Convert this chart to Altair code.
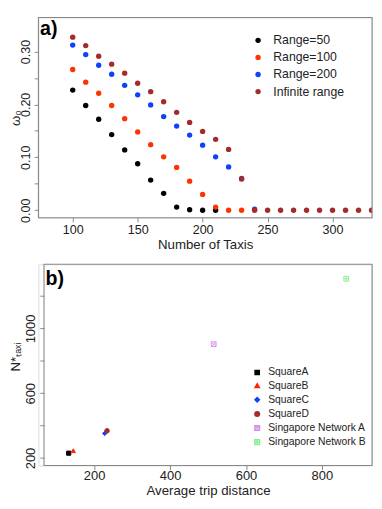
import altair as alt
import pandas as pd

FONT = "Liberation Sans"

# ---------- panel a data ----------
series_names = ["Range=50", "Range=100", "Range=200", "Infinite range"]
series_colors = ["#000000", "#FF3300", "#1040FF", "#A52A2A"]

x_r50 = [100, 110, 120, 130, 140, 150, 160, 170, 180, 190, 200, 210]
y_r50 = [0.227, 0.198, 0.172, 0.143, 0.114, 0.088, 0.057, 0.032, 0.006, 0.001, 0.0, 0.0]

x_r100 = [100, 110, 120, 130, 140, 150, 160, 170, 180, 190, 200, 210, 220, 230]
y_r100 = [0.266, 0.242, 0.221, 0.198, 0.173, 0.148, 0.124, 0.101, 0.081, 0.055, 0.030, 0.006, 0.0, 0.0]

x_r200 = [100, 110, 120, 130, 140, 150, 160, 170, 180, 190, 200, 210, 220, 230, 240]
y_r200 = [0.312, 0.294, 0.274, 0.257, 0.236, 0.218, 0.199, 0.177, 0.159, 0.142, 0.123, 0.101, 0.082, 0.060, 0.002]

x_inf = [100, 110, 120, 130, 140, 150, 160, 170, 180, 190, 200, 210, 220, 230,
         240, 250, 260, 270, 280, 290, 300, 310, 320, 330]
y_inf = [0.327, 0.311, 0.291, 0.276, 0.259, 0.240, 0.224, 0.205, 0.185, 0.166, 0.149, 0.134, 0.115, 0.059,
         0.0, 0.0, 0.0, 0.0, 0.0, 0.0, 0.0, 0.0, 0.0, 0.0]

x_ticks_a = [100, 150, 200, 250, 300]
y_ticks_a = [0.0, 0.05, 0.10, 0.15, 0.20, 0.25, 0.30]

# ---------- panel b data ----------
net_names = ["SquareA", "SquareB", "SquareC", "SquareD", "Singapore Network A", "Singapore Network B"]
net_trip = [133, 145, 228, 234, 515, 864]
net_ntaxi = [230, 245, 352, 368, 903, 1307]
net_stroke = ["#000000", "#FF2200", "#1040FF", "#A52A2A", "#D890EE", "#90EE90"]
net_fill = ["#000000", "#FF2200", "#1040FF", "#A52A2A", "transparent", "transparent"]
net_shapes = ["square", "triangle-up", "diamond", "circle",
              "M-1,-1L1,-1L1,1L-1,1Z M-1,-1L1,1 M-1,1L1,-1",
              "M-1,-1L1,-1L1,1L-1,1Z M0,-1L0,1 M-1,0L1,0"]
net_sizes = [18, 24, 16, 22, 30, 34]

x_ticks_b = [200, 400, 600, 800]
y_ticks_b = [200, 400, 600, 800, 1000, 1200]

rows = []
for name, xs, ys in zip(series_names, [x_r50, x_r100, x_r200, x_inf], [y_r50, y_r100, y_r200, y_inf]):
    for xv, yv in zip(xs, ys):
        rows.append({"taxis": xv, "omega": yv, "series": name})
df_a = pd.DataFrame(rows)

df_b = pd.DataFrame({"network": net_names, "trip": net_trip, "ntaxi": net_ntaxi})

FRAME = "#888888"
W = 340          # common view width (both panels share the left origin)
B_IN = 5.7       # panel b frame starts this far right of the shared origin
HA = 204
HB = 205


def axis_style(label_size):
    return dict(
        domain=False, grid=False, ticks=True, tickColor=FRAME, tickSize=4.3,
        labelFont=FONT, labelFontSize=label_size, labelColor="#222222",
        titleFont=FONT, titleFontSize=13.5, titleFontWeight="normal", titleColor="#222222",
    )

# ---------- panel a ----------
pts_a = alt.Chart(df_a).mark_circle(size=30, opacity=1, clip=True).encode(
    x=alt.X("taxis:Q",
            scale=alt.Scale(domain=[73.6, 330.4], nice=False, zero=False),
            axis=alt.Axis(values=x_ticks_a, title="Number of Taxis", labelPadding=2.3, titlePadding=0.8,
                          **axis_style(12.8))),
    y=alt.Y("omega:Q",
            scale=alt.Scale(domain=[-0.014, 0.364], nice=False, zero=False),
            axis=alt.Axis(values=y_ticks_a, title="ω₀",
                          labelExpr="round(datum.value*100) % 10 == 0 ? format(datum.value, '.2f') : ''",
                          labelAngle=270, labelAlign="center", labelBaseline="bottom",
                          labelPadding=1.5, titlePadding=-3, **axis_style(12.8))),
    color=alt.Color("series:N",
                    scale=alt.Scale(domain=series_names, range=series_colors),
                    legend=alt.Legend(orient="none", legendX=217.6, legendY=17, title=None,
                                      labelFont=FONT, labelFontSize=12.5, labelColor="#222222",
                                      symbolType="circle", symbolSize=30, rowPadding=4.4,
                                      labelOffset=9.2, padding=0)),
)
label_a = alt.Chart(alt.Data(values=[{"t": "a)"}])).mark_text(
    font=FONT, fontSize=20, fontWeight="bold", align="left", baseline="alphabetic", color="#000000"
).encode(text="t:N", x=alt.value(1.7), y=alt.value(17.6))
frame_a = alt.Chart(alt.Data(values=[{"t": 0}])).mark_rect(
    fill=None, stroke=FRAME, strokeWidth=1.1
).encode(x=alt.value(0), x2=alt.value(W), y=alt.value(0), y2=alt.value(HA))
panel_a = alt.layer(pts_a, label_a, frame_a).properties(width=W, height=HA)

# ---------- panel b ----------
pts_b = alt.Chart(df_b).mark_point(opacity=1, strokeWidth=1).encode(
    x=alt.X("trip:Q",
            scale=alt.Scale(domain=[68, 932], nice=False, zero=False, range=[B_IN, W]),
            axis=alt.Axis(values=x_ticks_b, title="Average trip distance", labelPadding=0.5, titlePadding=1.2,
                          titleX=(B_IN + W) / 2, **axis_style(13.2))),
    y=alt.Y("ntaxi:Q",
            scale=alt.Scale(domain=[154, 1396], nice=False, zero=False),
            axis=alt.Axis(values=y_ticks_b, title="N*ₜₐₓᵢ", format="d", offset=-B_IN,
                          labelExpr="(datum.value - 200) % 400 == 0 ? datum.label : ''",
                          labelAngle=270, labelAlign="center", labelBaseline="bottom",
                          labelPadding=2.3, titlePadding=1.4, titleY=94, **axis_style(13.2))),
    fill=alt.Fill("network:N", scale=alt.Scale(domain=net_names, range=net_fill)),
    stroke=alt.Stroke("network:N", scale=alt.Scale(domain=net_names, range=net_stroke)),
    shape=alt.Shape("network:N", scale=alt.Scale(domain=net_names, range=net_shapes)),
    size=alt.Size("network:N", scale=alt.Scale(domain=net_names, range=net_sizes),
                  legend=alt.Legend(orient="none", legendX=217.7, legendY=105, title=None,
                                    labelFont=FONT, labelFontSize=10.5, labelColor="#222222",
                                    rowPadding=2.4, labelOffset=6, padding=0)),
)
label_b = alt.Chart(alt.Data(values=[{"t": "b)"}])).mark_text(
    font=FONT, fontSize=20, fontWeight="bold", align="left", baseline="alphabetic", color="#000000"
).encode(text="t:N", x=alt.value(B_IN + 1.6), y=alt.value(21.5))
frame_b = alt.Chart(alt.Data(values=[{"t": 0}])).mark_rect(
    fill=None, stroke=FRAME, strokeWidth=1.1
).encode(x=alt.value(B_IN), x2=alt.value(W), y=alt.value(0), y2=alt.value(HB))
panel_b = alt.layer(pts_b, label_b, frame_b).properties(width=W, height=HB)

chart = alt.vconcat(panel_a, panel_b, spacing=10.5).resolve_scale(
    color="independent", fill="independent", stroke="independent", shape="independent", size="independent"
).properties(
    padding={"left": 0, "top": 3, "right": 0, "bottom": 0}
).configure_view(stroke=None).configure(font=FONT)

chart.save("out.html", embed_options={"renderer": "svg", "actions": False})
